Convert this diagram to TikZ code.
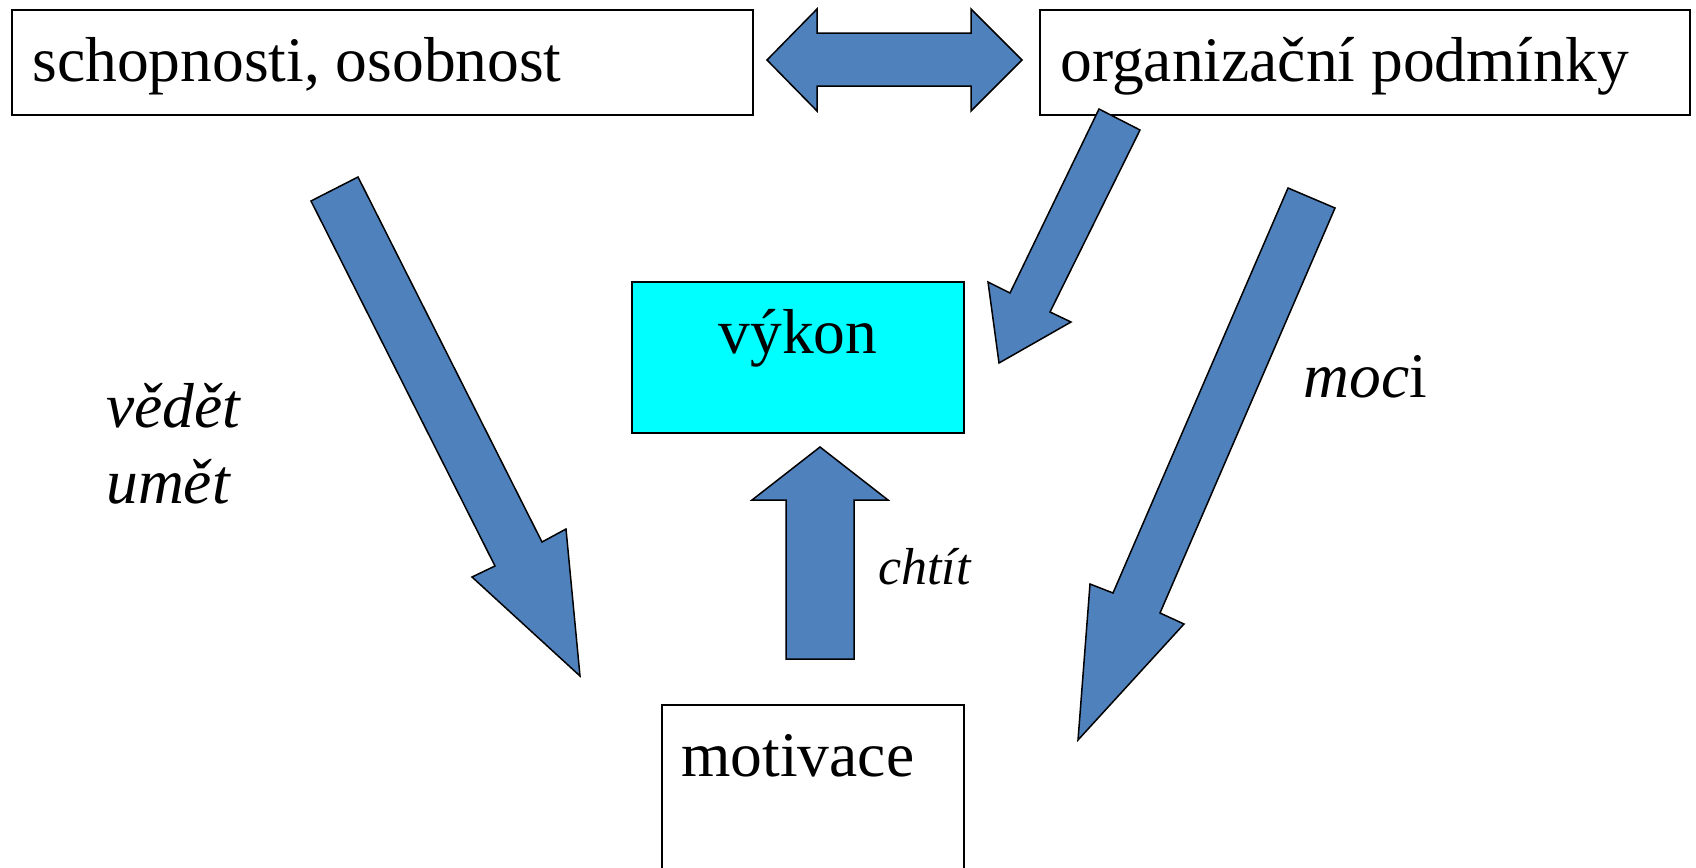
\documentclass[tikz,border=0pt]{standalone}
\usepackage{fontspec}
\setmainfont{Liberation Serif}
\usepackage{tikz}

\definecolor{arrowblue}{HTML}{4F81BD}
\definecolor{vykoncyan}{HTML}{00FFFF}

\begin{document}
\begin{tikzpicture}[x=0.5pt, y=-0.5pt,
    box/.style={draw, line width=0.75pt, inner sep=0pt, anchor=north west},
    blockarrow/.style={draw, line width=0.75pt, fill=arrowblue, line join=miter},
    big/.style={font=\fontsize{31.75}{38}\selectfont, inner sep=0pt},
    small/.style={font=\fontsize{26}{31}\selectfont\itshape, inner sep=0pt}]
  \useasboundingbox (0,0) rectangle (1696,867);
  \clip (0,0) rectangle (1696,867);
  % Boxes
  \node[box, minimum width=370.5pt, minimum height=52.5pt] (schop) at (11,9) {};
  \node[box, minimum width=325pt, minimum height=52.5pt] (organ) at (1039,9) {};
  \node[box, fill=vykoncyan, minimum width=166pt, minimum height=75.5pt] (vykon) at (631,281) {};
  \node[box, minimum width=151pt, minimum height=90pt] (motiv) at (661,704) {};
  % Texts in the boxes
  \node[big, anchor=base west] (schoptext) at (32,81) {schopnosti, osobnost};
  \node[big, anchor=base west] (organtext) at (1060,81) {organizační podmínky};
  \node[big, anchor=base] (vykontext) at (798,353) {výkon};
  \node[big, anchor=base west] (motivtext) at (681,776) {motivace};
  % Block arrows
  \draw[blockarrow] (767,60) -- (817,9) -- (817,33) -- (971,33) -- (971,9) -- (1022,60)
    -- (971,111) -- (971,86) -- (817,86) -- (817,111) -- cycle;
  \draw[blockarrow] (311,201) -- (358,177) -- (542,542) -- (566,529) -- (580,676)
    -- (472,577) -- (495,566) -- cycle;
  \draw[blockarrow] (1099,109) -- (1140,130) -- (1050,312) -- (1071,322) -- (999,363)
    -- (988,282) -- (1010,293) -- cycle;
  \draw[blockarrow] (1288,188) -- (1335,208) -- (1160,613) -- (1184,624) -- (1078,740)
    -- (1090,584) -- (1113,593) -- cycle;
  \draw[blockarrow] (820,447) -- (888,500) -- (854,500) -- (854,659) -- (786,659)
    -- (786,500) -- (752,500) -- cycle;
  % Labels of the arrows
  \node[big, anchor=base west, font=\fontsize{31.75}{38}\selectfont\itshape] (vedet) at (106,427) {vědět};
  \node[big, anchor=base west, font=\fontsize{31.75}{38}\selectfont\itshape] (umet) at (106,503) {umět};
  \node[big, anchor=base west] (moci) at (1303,397) {\textit{moc}i};
  \node[small, anchor=base west] (chtit) at (878,584) {chtít};
\end{tikzpicture}
\end{document}
